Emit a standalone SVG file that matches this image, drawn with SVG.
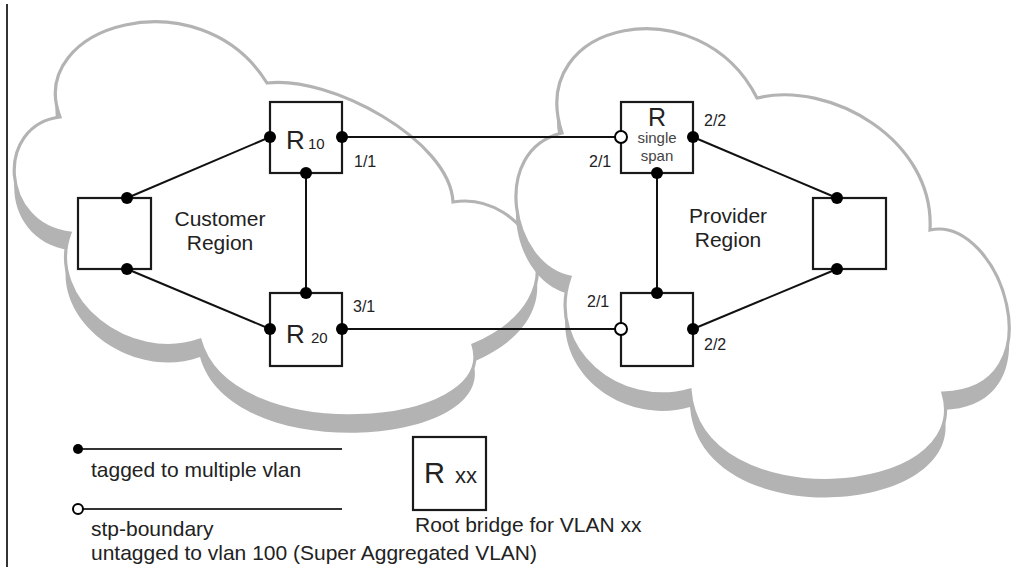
<svg xmlns="http://www.w3.org/2000/svg" xmlns:xlink="http://www.w3.org/1999/xlink" width="1029" height="580" viewBox="0 0 1029 580">
<style>
.shadow{fill:#b3b3b3}
.cloud{fill:#fff;stroke:#b3b3b3;stroke-width:3.2}
.box{fill:#fff;stroke:#1a1a1a;stroke-width:2.2}
.conn{stroke:#111;stroke-width:2;fill:none}
.leg{stroke:#333;stroke-width:2;fill:none}
.dot{fill:#000}
.hollow{fill:#fff;stroke:#000;stroke-width:2}
text{font-family:"Liberation Sans",Arial,sans-serif;fill:#222}
.port{font-size:16px}
.region{font-size:21px}
.legend{font-size:21px}
.small{font-size:15px;fill:#444}
</style>
<defs>
<path id="custCloud" d="M60,117 C25,25 200,-25 267,83 C330,75 450,140 453,202 C525,190 590,295 473,345 C500,430 230,450 200,340 C130,365 45,300 70,233 C0,225 -5,125 60,117 Z"/>
<path id="provCloud" d="M562,133 C525,20 700,-15 757,98 C830,80 935,140 930,230 C1000,215 1060,390 943,393 C975,500 700,520 690,390 C620,410 545,350 570,277 C510,265 490,150 562,133 Z"/>
</defs>

<line x1="7" y1="4" x2="7" y2="567" stroke="#333" stroke-width="2"/>

<g id="customer-cloud">
<use xlink:href="#custCloud" class="shadow" transform="translate(0,17)"/>
<use xlink:href="#custCloud" class="cloud"/>
<text class="region" x="220" y="226" text-anchor="middle">Customer</text>
<text class="region" x="220" y="250" text-anchor="middle">Region</text>
</g>

<g id="provider-cloud">
<use xlink:href="#provCloud" class="shadow" transform="translate(0,17)"/>
<use xlink:href="#provCloud" class="cloud"/>
<text class="region" x="728" y="223" text-anchor="middle">Provider</text>
<text class="region" x="728" y="247" text-anchor="middle">Region</text>
</g>

<g id="connectors">
<line class="conn" x1="127" y1="198" x2="270" y2="137"/>
<line class="conn" x1="127" y1="269" x2="270" y2="329"/>
<line class="conn" x1="306" y1="173" x2="306" y2="293"/>
<line class="conn" x1="342" y1="137" x2="621" y2="137"/>
<line class="conn" x1="342" y1="329" x2="621" y2="329"/>
<line class="conn" x1="657" y1="173" x2="657" y2="293"/>
<line class="conn" x1="693" y1="137" x2="837" y2="198"/>
<line class="conn" x1="693" y1="329" x2="837" y2="269"/>
</g>

<g id="cust-switch">
<rect class="box" x="78" y="198" width="73" height="71"/>
<circle class="dot" cx="127" cy="198" r="6"/>
<circle class="dot" cx="127" cy="269" r="6"/>
</g>

<g id="r10">
<rect class="box" x="270" y="102" width="72" height="71"/>
<text x="286" y="149" font-size="26">R</text>
<text x="308" y="149" font-size="15">10</text>
<circle class="dot" cx="270" cy="137" r="6"/>
<circle class="dot" cx="342" cy="137" r="6"/>
<circle class="dot" cx="306" cy="173" r="6"/>
<text class="port" x="354" y="167">1/1</text>
</g>

<g id="r20">
<rect class="box" x="270" y="293" width="72" height="73"/>
<text x="286" y="343" font-size="26">R</text>
<text x="311" y="343" font-size="15">20</text>
<circle class="dot" cx="306" cy="293" r="6"/>
<circle class="dot" cx="270" cy="329" r="6"/>
<circle class="dot" cx="342" cy="329" r="6"/>
<text class="port" x="353" y="312">3/1</text>
</g>

<g id="r-single-span">
<rect class="box" x="621" y="102" width="72" height="71"/>
<text x="657" y="126" font-size="25" text-anchor="middle">R</text>
<text class="small" x="657" y="143" text-anchor="middle">single</text>
<text class="small" x="657" y="161" text-anchor="middle">span</text>
<circle class="hollow" cx="621" cy="137" r="6"/>
<circle class="dot" cx="693" cy="137" r="6"/>
<circle class="dot" cx="657" cy="173" r="6"/>
<text class="port" x="589" y="167">2/1</text>
<text class="port" x="704" y="126">2/2</text>
</g>

<g id="prov-lower">
<rect class="box" x="621" y="293" width="72" height="73"/>
<circle class="dot" cx="657" cy="293" r="6"/>
<circle class="hollow" cx="621" cy="329" r="6"/>
<circle class="dot" cx="693" cy="329" r="6"/>
<text class="port" x="587" y="307">2/1</text>
<text class="port" x="704" y="350">2/2</text>
</g>

<g id="prov-switch">
<rect class="box" x="813" y="198" width="73" height="71"/>
<circle class="dot" cx="837" cy="198" r="6"/>
<circle class="dot" cx="837" cy="269" r="6"/>
</g>

<g id="legend">
<line class="leg" x1="78" y1="449" x2="342" y2="449"/>
<circle class="dot" cx="78" cy="449" r="5"/>
<text class="legend" x="91" y="477">tagged to multiple vlan</text>
<line class="leg" x1="78" y1="509" x2="342" y2="509"/>
<circle class="hollow" cx="78" cy="509" r="5"/>
<text class="legend" x="91" y="536">stp-boundary</text>
<text class="legend" x="91" y="560">untagged to vlan 100 (Super Aggregated VLAN)</text>
<rect class="box" x="413" y="437" width="73" height="73"/>
<text x="424" y="483" font-size="29">R</text>
<text x="455" y="483" font-size="22">xx</text>
<text class="legend" x="415" y="532">Root bridge for VLAN xx</text>
</g>
</svg>
